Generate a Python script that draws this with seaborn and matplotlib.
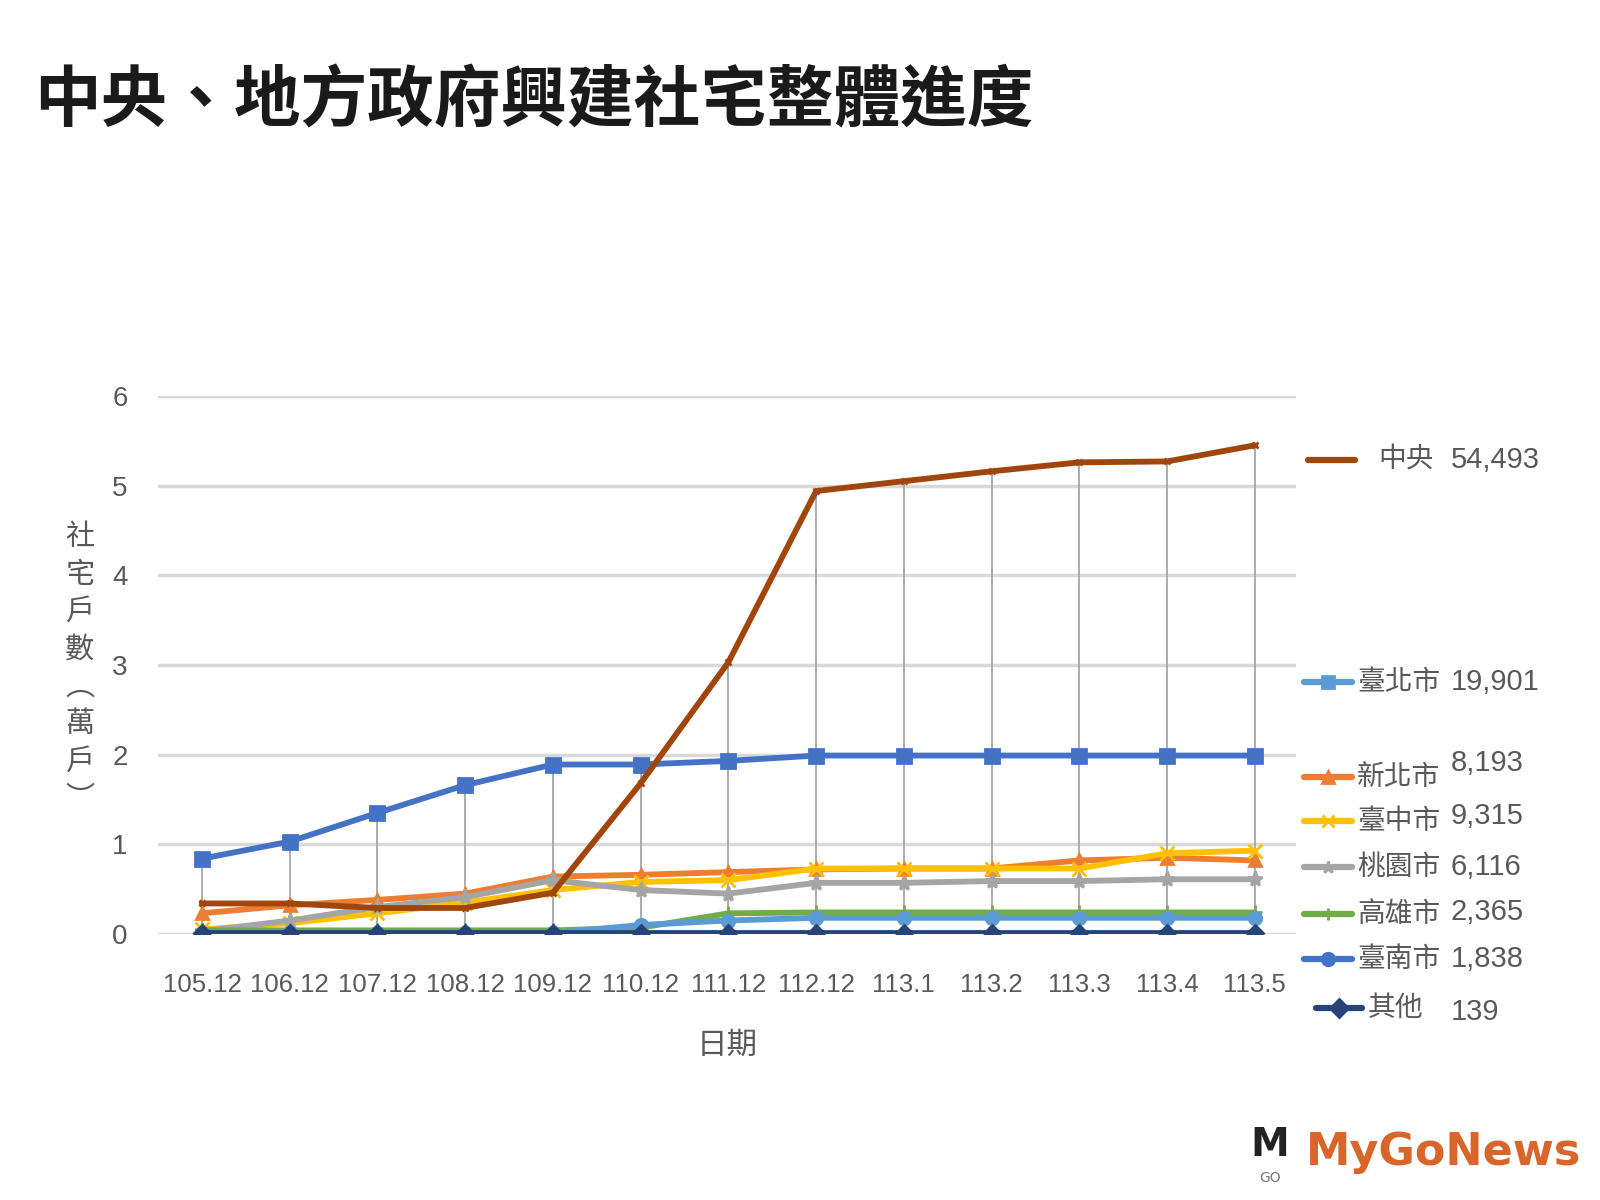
import numpy as np
import pandas as pd
import matplotlib
matplotlib.use("Agg")
import matplotlib.pyplot as plt
import seaborn as sns
from matplotlib.lines import Line2D

# ---------------- data (萬戶) ----------------
dates = ["105.12", "106.12", "107.12", "108.12", "109.12", "110.12", "111.12",
         "112.12", "113.1", "113.2", "113.3", "113.4", "113.5"]
central = [0.34, 0.34, 0.29, 0.29, 0.46, 1.68, 3.03, 4.94, 5.05, 5.16, 5.26, 5.27, 5.45]
taipei = [0.84, 1.03, 1.35, 1.66, 1.89, 1.89, 1.93, 1.99, 1.99, 1.99, 1.99, 1.99, 1.99]
new_taipei = [0.23, 0.32, 0.38, 0.45, 0.64, 0.66, 0.69, 0.72, 0.73, 0.73, 0.82, 0.85, 0.82]
taichung = [0.05, 0.12, 0.23, 0.35, 0.49, 0.58, 0.60, 0.73, 0.73, 0.73, 0.73, 0.90, 0.93]
taoyuan = [0.03, 0.15, 0.30, 0.41, 0.60, 0.49, 0.45, 0.57, 0.57, 0.59, 0.59, 0.61, 0.61]
kaohsiung = [0.04, 0.04, 0.04, 0.04, 0.04, 0.07, 0.23, 0.24, 0.24, 0.24, 0.24, 0.24, 0.24]
tainan = [0.01, 0.01, 0.01, 0.01, 0.01, 0.10, 0.15, 0.18, 0.18, 0.18, 0.18, 0.18, 0.18]
others = [0.014, 0.014, 0.014, 0.014, 0.014, 0.014, 0.014, 0.014, 0.014, 0.014, 0.014, 0.014, 0.014]

legend_names = ["中央", "臺北市", "新北市", "臺中市", "桃園市", "高雄市", "臺南市", "其他"]
legend_totals = ["54,493", "19,901", "8,193", "9,315", "6,116", "2,365", "1,838", "139"]
yticks = [0, 1, 2, 3, 4, 5, 6]

series = {
    "臺北市": taipei, "新北市": new_taipei, "臺中市": taichung, "桃園市": taoyuan,
    "高雄市": kaohsiung, "臺南市": tainan, "其他": others, "中央": central,
}
draw_order = ["臺北市", "新北市", "臺中市", "桃園市", "高雄市", "臺南市", "其他", "中央"]

line_colors = {"中央": "#A0460D", "臺北市": "#4472C4", "新北市": "#ED7D31", "臺中市": "#FFC000",
               "桃園市": "#A5A5A5", "高雄市": "#70AD47", "臺南市": "#5B9BD5", "其他": "#264478"}
legend_colors = {"中央": "#A0460D", "臺北市": "#5B9BD5", "新北市": "#ED7D31", "臺中市": "#FFC000",
                 "桃園市": "#A5A5A5", "高雄市": "#70AD47", "臺南市": "#4472C4", "其他": "#264478"}
markers = {"中央": "x", "臺北市": "s", "新北市": "^", "臺中市": "x", "桃園市": "*",
           "高雄市": "+", "臺南市": "o", "其他": "D"}
marker_sizes = {"中央": 5, "臺北市": 10, "新北市": 9, "臺中市": 10, "桃園市": 11,
                "高雄市": 10, "臺南市": 9, "其他": 8}
legend_markers = {"中央": "", "臺北市": "s", "新北市": "^", "臺中市": "x", "桃園市": "*",
                  "高雄市": "|", "臺南市": "o", "其他": "D"}

rows = []
for name in draw_order:
    for i, v in enumerate(series[name]):
        rows.append({"idx": i, "value": v, "series": name})
df = pd.DataFrame(rows)

# ---------------- style ----------------
sns.set_theme(style="white")
LAT = ["Liberation Sans", "Noto Sans CJK TC", "DejaVu Sans"]
CJK = ["Noto Sans CJK TC", "DejaVu Sans"]
plt.rcParams["font.family"] = CJK

fig = plt.figure(figsize=(16, 12), dpi=100)
ax = fig.add_axes([0.0988, 0.2217, 0.7112, 0.4483])

# drop lines (from the top series down to the axis)
tops = df.groupby("idx")["value"].max()
ax.vlines(tops.index, 0, tops.values, colors="#A6A6A6", linewidth=1.3, zorder=1)

for k, name in enumerate(draw_order):
    sub = df[df["series"] == name]
    sns.lineplot(data=sub, x="idx", y="value", color=line_colors[name],
                 marker=markers[name], markersize=marker_sizes[name],
                 markeredgewidth=2.0, markeredgecolor=line_colors[name],
                 linewidth=4.2, sort=False, legend=False, ax=ax, zorder=3 + k)

ax.set_xlim(-0.5, 12.47)
ax.set_ylim(0, 6)
ax.set_yticks(yticks)
ax.set_xticks(range(len(dates)))
ax.set_xticklabels(dates)
ax.yaxis.grid(True, color="#D9D9D9", linewidth=2.5, zorder=0)
ax.xaxis.grid(False)
for s in ax.spines.values():
    s.set_visible(False)
ax.tick_params(axis="x", length=0, pad=28, labelsize=18.5, labelcolor="#595959")
ax.tick_params(axis="y", length=0, pad=22, labelsize=20, labelcolor="#595959")
for lab in ax.get_xticklabels() + ax.get_yticklabels():
    lab.set_family(LAT)
ax.set_xlabel("日期", fontsize=22, color="#595959", labelpad=24)
ax.set_ylabel("")

# vertical stacked y label
fig.text(80 / 1600, 1 - 668 / 1200, "社\n宅\n戶\n數\n︵\n萬\n戶\n︶", ha="center", va="center",
         fontsize=21, color="#595959", linespacing=1.32)

# title
fig.text(34 / 1600, 1 - 102 / 1200, "中央、地方政府興建社宅整體進度", ha="left", va="center",
         fontsize=48, fontweight="bold", color="#1A1A1A")

# legend (custom, aligned to line ends)
leg_y_label = [460, 682, 777, 821, 867, 914, 959, 1008]
leg_y_value = [460, 682, 763, 816, 867, 912, 959, 1012]
for name, total, yl, yv in zip(legend_names, legend_totals, leg_y_label, leg_y_value):
    x0, x1 = (1308, 1355) if name == "中央" else ((1316, 1362) if name == "其他" else (1304, 1352))
    xm = (x0 + x1) / 2
    yy = 1 - yl / 1200
    fig.add_artist(Line2D([x0 / 1600, x1 / 1600], [yy, yy], transform=fig.transFigure,
                          color=legend_colors[name], linewidth=4.5, solid_capstyle="round"))
    if legend_markers[name]:
        fig.add_artist(Line2D([xm / 1600], [yy], transform=fig.transFigure,
                              color=legend_colors[name], marker=legend_markers[name],
                              markersize=9, markeredgewidth=2.0, linestyle="none"))
    lx = 1378 if name == "中央" else (1368 if name == "其他" else 1357)
    fig.text(lx / 1600, yy, name, ha="left", va="center", fontsize=20, color="#595959")
    fig.text(1451 / 1600, 1 - yv / 1200, total, ha="left", va="center", fontsize=21,
             color="#595959", family=LAT)

# logo
fig.text(1306 / 1600, 1 - 1153 / 1200, "MyGoNews", ha="left", va="center", fontsize=32,
         fontweight="bold", color="#D9652A", family=["DejaVu Sans"])
fig.text(1270 / 1600, 1 - 1145 / 1200, "M", ha="center", va="center", fontsize=28,
         fontweight="bold", color="#222222", family=["DejaVu Sans"])
fig.text(1270 / 1600, 1 - 1178 / 1200, "GO", ha="center", va="center", fontsize=10,
         color="#777777", family=["DejaVu Sans"])

fig.savefig("out.png", dpi=100, facecolor="white")
